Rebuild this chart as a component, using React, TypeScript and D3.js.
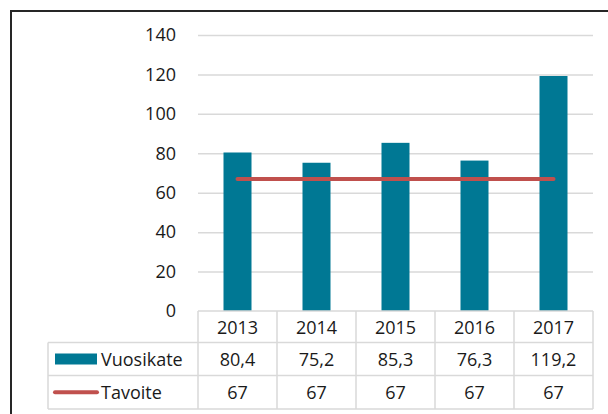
import React, { useEffect, useRef } from "react";
import * as d3 from "d3";

// chart data
const years = ["2013", "2014", "2015", "2016", "2017"];
const vuosikate = [80.4, 75.2, 85.3, 76.3, 119.2];
const tavoite = [67, 67, 67, 67, 67];
const yTicks = [0, 20, 40, 60, 80, 100, 120, 140];
const seriesNames = ["Vuosikate", "Tavoite"];

const TEAL = "#007894";
const RED = "#C0504D";
const GRID = "#d9d9d9";
const FONT = "'Open Sans', 'Noto Sans', sans-serif";

function Chart({ width, height }: { width: number; height: number }) {
  const chartRef = useRef<HTMLDivElement>(null);

  useEffect(() => {
    const root = d3.select(chartRef.current);
    root.selectAll("*").remove();

    const svg = root
      .append("svg")
      .attr("width", width)
      .attr("height", height)
      .style("display", "block")
      .style("font-family", FONT);

    svg.append("rect").attr("width", width).attr("height", height).attr("fill", "#fff");

    // outer frame
    svg
      .append("rect")
      .attr("x", 11)
      .attr("y", 11)
      .attr("width", width + 10)
      .attr("height", height + 10)
      .attr("fill", "none")
      .attr("stroke", "#262626")
      .attr("stroke-width", 2);

    const plot = { left: 198, right: 593, top: 35, bottom: 311 };

    const x = d3.scaleBand().domain(years).range([plot.left, plot.right]).padding(0);
    const y = d3.scaleLinear().domain([0, 140]).range([plot.bottom, plot.top]);

    // y axis with gridlines
    const yAxis = svg
      .append("g")
      .attr("transform", `translate(${plot.left},0)`)
      .call(
        d3
          .axisLeft(y)
          .tickValues(yTicks)
          .tickSize(-(plot.right - plot.left))
          .tickPadding(22)
          .tickFormat(d3.format("d"))
      );
    yAxis.select(".domain").remove();
    yAxis
      .selectAll(".tick line")
      .attr("stroke", GRID)
      .attr("stroke-width", 1.5)
      .attr("opacity", (d: any) => (d === 0 ? 0 : 1));
    yAxis
      .selectAll(".tick text")
      .attr("fill", "#1a1a1a")
      .style("font-size", "18px")
      .style("font-family", FONT);

    // bars
    const barW = 28;
    svg
      .selectAll(".bar")
      .data(vuosikate)
      .enter()
      .append("rect")
      .attr("class", "bar")
      .attr("x", (_d, i) => x(years[i])! + x.bandwidth() / 2 - barW / 2)
      .attr("y", (d) => y(d))
      .attr("width", barW)
      .attr("height", (d) => y(0) - y(d))
      .attr("fill", TEAL);

    // target line
    const line = d3
      .line<number>()
      .x((_d, i) => x(years[i])! + x.bandwidth() / 2)
      .y((d) => y(d));
    svg
      .append("path")
      .datum(tavoite)
      .attr("d", line)
      .attr("fill", "none")
      .attr("stroke", RED)
      .attr("stroke-width", 4)
      .attr("stroke-linecap", "round");

    // data table
    const rows = [plot.bottom, 342.5, 375.5, 409];
    const tableLeft = 48;
    const g = svg.append("g").attr("stroke", GRID).attr("stroke-width", 1.5);

    // horizontal lines
    g.append("line").attr("x1", plot.left).attr("x2", plot.right).attr("y1", rows[0]).attr("y2", rows[0]);
    rows.slice(1).forEach((ry) => {
      g.append("line").attr("x1", tableLeft).attr("x2", plot.right).attr("y1", ry).attr("y2", ry);
    });
    // vertical lines
    g.append("line").attr("x1", tableLeft).attr("x2", tableLeft).attr("y1", rows[1]).attr("y2", rows[3]);
    [...years.map((yr) => x(yr)!), plot.right].forEach((vx) => {
      g.append("line").attr("x1", vx).attr("x2", vx).attr("y1", rows[0]).attr("y2", rows[3]);
    });

    const fmt = (v: number) => String(v).replace(".", ",");
    const cellText = (txt: string, cx: number, r: number) =>
      svg
        .append("text")
        .attr("x", cx)
        .attr("y", (rows[r] + rows[r + 1]) / 2)
        .attr("text-anchor", "middle")
        .attr("dominant-baseline", "central")
        .attr("fill", "#1a1a1a")
        .style("font-size", "18px")
        .text(txt);

    years.forEach((yr, i) => {
      const cx = x(yr)! + x.bandwidth() / 2;
      cellText(yr, cx, 0);
      cellText(fmt(vuosikate[i]), cx, 1);
      cellText(fmt(tavoite[i]), cx, 2);
    });

    // legend keys
    svg
      .append("rect")
      .attr("x", 55)
      .attr("y", (rows[1] + rows[2]) / 2 - 5.5)
      .attr("width", 42)
      .attr("height", 11)
      .attr("fill", TEAL);
    svg
      .append("line")
      .attr("x1", 55)
      .attr("x2", 97)
      .attr("y1", (rows[2] + rows[3]) / 2)
      .attr("y2", (rows[2] + rows[3]) / 2)
      .attr("stroke", RED)
      .attr("stroke-width", 4)
      .attr("stroke-linecap", "round");

    seriesNames.forEach((name, i) => {
      svg
        .append("text")
        .attr("x", 101)
        .attr("y", (rows[i + 1] + rows[i + 2]) / 2)
        .attr("dominant-baseline", "central")
        .attr("fill", "#1a1a1a")
        .style("font-size", "18px")
        .text(name);
    });
  }, [width, height]);

  return <div ref={chartRef}></div>;
}

export default function App() {
  return (
    <div style={{ position: "absolute", left: 0, top: 0 }}>
      <Chart width={608} height={414} />
    </div>
  );
}
